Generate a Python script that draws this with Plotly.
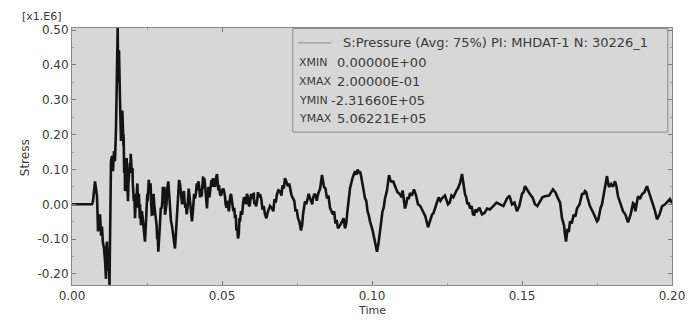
import plotly.graph_objects as go

# Time (s) and stress (x1.E6): main peaks / troughs
time = [
    0.0, 0.00667, 0.0070, 0.00767, 0.0080, 0.00833, 0.0085, 0.00867, 0.0090, 0.00933,
    0.0097, 0.0100, 0.0103, 0.01067, 0.0110, 0.01133, 0.0115, 0.01167, 0.0120, 0.01233,
    0.0125, 0.01267, 0.0130, 0.01333, 0.0135, 0.01367, 0.0140, 0.01433, 0.01467, 0.0150,
    0.01523, 0.0154, 0.0155, 0.01567, 0.0160, 0.01633, 0.0165, 0.01677, 0.01717, 0.0174,
    0.01767, 0.0180, 0.01823, 0.0185, 0.01867, 0.0190, 0.01957, 0.0199, 0.02023, 0.0206,
    0.0210, 0.0213, 0.02167, 0.0220, 0.02267, 0.0230, 0.02357, 0.0240, 0.02433, 0.0248,
    0.02523, 0.0256, 0.0260, 0.0264, 0.0269, 0.0274, 0.0280, 0.0284, 0.02877, 0.0293,
    0.0299, 0.0303, 0.03067, 0.0310, 0.03133, 0.0317, 0.0321, 0.0325, 0.0330, 0.0337,
    0.03433, 0.0349, 0.03543, 0.0357, 0.0360, 0.0367, 0.03733, 0.0378, 0.03823, 0.0387,
    0.0391, 0.0396, 0.0400, 0.0405, 0.0410, 0.0416, 0.0421, 0.0427, 0.04323, 0.0437,
    0.0441, 0.0446, 0.0450, 0.0455, 0.0460, 0.0465, 0.0470, 0.0477, 0.04833, 0.0488,
    0.04933, 0.0500, 0.0510, 0.0515, 0.0520, 0.0527, 0.05333, 0.0538, 0.05433, 0.0548,
    0.05533, 0.0558, 0.05633, 0.0570, 0.05767, 0.0583, 0.0590, 0.0597, 0.06033, 0.0608,
    0.06133, 0.0620, 0.06267, 0.0635, 0.06433, 0.06533, 0.06667, 0.0675, 0.06833, 0.06933,
    0.0702, 0.0710, 0.0720, 0.0728, 0.07367, 0.0745, 0.07533, 0.07633, 0.0770, 0.07767,
    0.0785, 0.07933, 0.0798, 0.08033, 0.0812, 0.0820, 0.08333, 0.0840, 0.0850, 0.0860,
    0.0870, 0.0878, 0.08867, 0.0900, 0.0910, 0.0918, 0.09267, 0.09433, 0.0952, 0.0960,
    0.0968, 0.09767, 0.0985, 0.09933, 0.1010, 0.10167, 0.10267, 0.1035, 0.10433, 0.10567,
    0.1065, 0.10767, 0.10933, 0.1102, 0.1110, 0.1118, 0.11267, 0.1140, 0.11533, 0.1170,
    0.11867, 0.1200, 0.1210, 0.1222, 0.12333, 0.12533, 0.1265, 0.12767, 0.12867, 0.1300,
    0.1310, 0.1318, 0.13267, 0.13367, 0.1345, 0.1350, 0.13667, 0.13833, 0.14033, 0.14267,
    0.1450, 0.14667, 0.14833, 0.1500, 0.1510, 0.15267, 0.15433, 0.1560, 0.15767, 0.16033,
    0.1620, 0.16333, 0.1640, 0.16467, 0.1652, 0.1660, 0.1672, 0.16833, 0.1700, 0.1710,
    0.1718, 0.17267, 0.1750, 0.1758, 0.17667, 0.17767, 0.17833, 0.1790, 0.17967, 0.1810,
    0.1820, 0.18367, 0.18533, 0.1870, 0.1878, 0.18867, 0.1900, 0.19167, 0.19333, 0.1950,
    0.19667, 0.19867, 0.2000,
]
stress = [
    0.0, 0.0, 0.009, 0.066, 0.045, 0.023, -0.02, -0.078, -0.04, -0.029,
    -0.09, -0.064, -0.11, -0.127, -0.16, -0.214, -0.12, -0.107, -0.19, -0.179,
    -0.2317, -0.15, 0.124, 0.139, 0.10, 0.095, 0.153, 0.124, 0.220, 0.413,
    0.506, 0.35, 0.384, 0.442, 0.298, 0.182, 0.24, 0.269, 0.168, 0.09,
    0.038, 0.11, 0.133, 0.05, 0.009, 0.08, 0.145, 0.10, 0.066, 0.01,
    -0.040, 0.02, 0.046, -0.01, 0.0, -0.06, -0.040, -0.09, -0.107, -0.03,
    0.009, 0.07, 0.046, 0.0, -0.029, 0.0, -0.040, -0.10, -0.136, -0.06,
    -0.012, 0.05, 0.038, -0.03, -0.012, 0.04, 0.066, 0.01, -0.049, -0.09,
    -0.127, -0.05, 0.009, 0.07, 0.058, 0.0, 0.038, -0.01, -0.029, 0.03,
    0.029, -0.01, -0.049, 0.0, 0.017, 0.06, 0.066, 0.02, 0.023, 0.08,
    0.075, 0.02, -0.012, 0.05, 0.038, 0.07, 0.075, 0.05, 0.087, 0.04,
    0.029, 0.04, 0.023, -0.01, -0.012, 0.02, 0.009, -0.02, -0.040, -0.075,
    -0.098, -0.04, -0.020, 0.0, 0.017, 0.03, -0.006, 0.03, 0.029, 0.0,
    -0.006, 0.035, 0.029, -0.015, -0.029, -0.020, -0.012, 0.015, 0.029, 0.038,
    0.055, 0.075, 0.052, 0.035, 0.017, -0.02, -0.040, -0.075, -0.03, 0.009,
    0.02, 0.017, 0.003, 0.017, 0.025, 0.029, 0.084, 0.05, 0.017, -0.01,
    -0.029, -0.055, -0.069, -0.049, -0.069, -0.02, 0.046, 0.095, 0.10, 0.095,
    0.06, 0.017, -0.02, -0.049, -0.107, -0.136, -0.078, -0.02, 0.017, 0.084,
    0.065, 0.052, 0.029, 0.04, -0.012, 0.02, 0.032, 0.043, 0.0, -0.020,
    -0.066, -0.03, -0.012, 0.02, 0.017, 0.0, 0.025, 0.032, 0.046, 0.087,
    0.029, 0.0, -0.012, -0.029, -0.015, -0.020, -0.029, -0.012, -0.006, 0.0,
    0.017, 0.0, -0.020, 0.03, 0.052, 0.029, 0.0, 0.009, 0.023, 0.043,
    0.017, -0.040, -0.06, -0.107, -0.07, -0.049, -0.03, -0.012, 0.029, 0.038,
    0.02, -0.006, -0.049, -0.02, 0.0, 0.046, 0.081, 0.05, 0.058, 0.066,
    0.023, -0.020, -0.052, 0.003, -0.02, 0.023, 0.029, 0.052, 0.009, -0.043,
    -0.006, 0.009, 0.003,
]

time_fine = [
    0.0172, 0.0176, 0.0178, 0.0183, 0.0188, 0.0193, 0.0195, 0.0202, 0.0208, 0.0215,
    0.0218, 0.0223, 0.0226, 0.0233, 0.0238, 0.0246, 0.0251, 0.0258, 0.0262, 0.0266,
    0.0272, 0.0277, 0.0282, 0.0286, 0.0290, 0.0296, 0.0301, 0.0305, 0.0308, 0.0315,
    0.0319, 0.0323, 0.0328, 0.0333, 0.0340, 0.0346, 0.0352, 0.0355, 0.0363, 0.0370,
    0.0375, 0.0380, 0.0385, 0.0389, 0.0393, 0.0398, 0.0403, 0.0407, 0.0413, 0.0419,
    0.0424, 0.0430, 0.0435, 0.0439, 0.0443, 0.0448, 0.0452, 0.0458, 0.0462, 0.0468,
    0.0473, 0.0480, 0.0486, 0.0490, 0.0497,
    0.0505, 0.0512, 0.0517, 0.0523, 0.0530, 0.0541, 0.0546, 0.0551, 0.0556, 0.0560,
    0.0567, 0.0573, 0.0580, 0.0587, 0.0593, 0.0600, 0.0606, 0.0611, 0.0617, 0.0623,
    0.0631, 0.0639, 0.0648, 0.0660, 0.0671, 0.0679, 0.0688, 0.0698, 0.0706, 0.0715,
    0.0724, 0.0732, 0.0741, 0.0749, 0.0758, 0.0767, 0.0773, 0.0781, 0.0789, 0.0801,
    0.0808, 0.0816, 0.0827, 0.0837, 0.0845, 0.0855, 0.0865, 0.0874, 0.0882, 0.0894,
    0.0905, 0.0914, 0.0922, 0.0935, 0.0948, 0.0956, 0.0964, 0.0972, 0.0981, 0.0989,
    0.1002, 0.1022, 0.1031, 0.1039, 0.1050, 0.1061, 0.1071, 0.1085, 0.1098, 0.1106,
    0.1114, 0.1122, 0.1133, 0.1147, 0.1161, 0.1178, 0.1193, 0.1205, 0.1216, 0.1228,
    0.1243, 0.1259, 0.1271, 0.1282, 0.1293, 0.1305, 0.1314, 0.1322, 0.1332, 0.1341,
    0.1358, 0.1375, 0.1393, 0.1415, 0.1438, 0.1458, 0.1475, 0.1491, 0.1505, 0.1518,
    0.1535, 0.1551, 0.1568, 0.1590, 0.1611, 0.1627, 0.1643, 0.1656, 0.1666, 0.1678,
    0.1692, 0.1705, 0.1714, 0.1722, 0.1738, 0.1754, 0.1762, 0.1772, 0.1786, 0.1803,
    0.1815, 0.1828, 0.1845, 0.1862, 0.1874, 0.1882, 0.1893, 0.1908, 0.1925, 0.1942,
    0.1958, 0.1977, 0.1993,
]
stress_fine = [
    0.20, 0.12, 0.06, 0.09, 0.06, 0.12, 0.09, 0.10, 0.03, 0.0,
    0.06, 0.03, -0.04, -0.02, -0.07, -0.06, 0.03, 0.03, 0.06, -0.03,
    0.03, -0.02, -0.06, -0.09, -0.11, -0.01, 0.01, 0.02, 0.05, 0.0,
    0.06, 0.04, -0.02, -0.06, -0.10, -0.09, -0.02, 0.04, 0.03, 0.03,
    0.01, 0.0, -0.01, 0.045, 0.01, -0.04, -0.02, 0.03, 0.03, 0.04,
    0.05, 0.045, 0.05, 0.045, 0.06, 0.005, 0.02, 0.02, 0.055, 0.05,
    0.06, 0.075, 0.06, 0.055, 0.025,
    0.045, 0.0, 0.01, -0.02, 0.03, -0.01, -0.03, -0.07, -0.085, -0.05,
    -0.03, 0.02, 0.0, 0.02, 0.0, 0.015, 0.03, 0.01, 0.01, 0.02,
    0.015, -0.005, -0.04, -0.005, -0.02, 0.005, 0.04, 0.025, 0.045, 0.065,
    0.06, 0.025, 0.01, -0.015, -0.05, -0.06, -0.01, 0.0, 0.03, 0.0,
    0.03, 0.01, 0.045, 0.065, 0.045, 0.025, -0.02, -0.02, -0.045, -0.06,
    -0.04, -0.055, 0.01, 0.075, 0.085, 0.09, 0.08, 0.04, 0.01, -0.03,
    -0.075, -0.11, -0.06, -0.01, 0.04, 0.07, 0.065, 0.035, 0.02, 0.02,
    0.0, 0.015, 0.025, 0.025, -0.005, -0.035, -0.045, -0.025, 0.0, 0.01,
    0.025, 0.005, 0.02, 0.04, 0.06, 0.055, 0.02, 0.005, -0.005, -0.03,
    -0.01, -0.025, -0.015, 0.005, -0.005, 0.025, 0.005, -0.005, 0.035, 0.04,
    0.02, -0.005, 0.02, 0.025, 0.035, 0.005, -0.085, -0.08, -0.055, -0.035,
    0.0, 0.03, 0.035, 0.005, -0.025, -0.045, -0.01, 0.025, 0.065, 0.05,
    0.05, 0.0, -0.03, -0.03, 0.0, 0.0, 0.015, 0.035, 0.03, -0.015,
    -0.03, 0.0, 0.015,
]

x_ticks = [0.00, 0.05, 0.10, 0.15, 0.20]
x_tick_text = ["0.00", "0.05", "0.10", "0.15", "0.20"]
y_ticks = [-0.20, -0.10, 0.00, 0.10, 0.20, 0.30, 0.40, 0.50]
y_tick_text = ["-0.20", "-0.10", "0.00", "0.10", "0.20", "0.30", "0.40", "0.50"]

legend_label = "S:Pressure (Avg: 75%) PI: MHDAT-1 N: 30226_1"
info_names = ["XMIN", "XMAX", "YMIN", "YMAX"]
info_values = ["0.00000E+00", "2.00000E-01", "-2.31660E+05", "5.06221E+05"]

pts = sorted(zip(time + time_fine, stress + stress_fine))
t_all = [p[0] for p in pts]
s_all = [p[1] for p in pts]

FONT = "DejaVu Sans"
TXT = "#3a3a3a"

fig = go.Figure()
fig.add_trace(go.Scatter(
    x=t_all, y=s_all, mode="lines",
    line=dict(color="#141414", width=2.6),
    showlegend=False, hoverinfo="skip",
))

axis_common = dict(
    showgrid=False, zeroline=False, showline=True, linecolor="#8a8a8a", linewidth=1,
    mirror="ticks", ticks="inside", ticklen=4, tickcolor="#7a7a7a", automargin=False,
    tickfont=dict(family=FONT, size=12, color=TXT),
    minor=dict(ticks="inside", ticklen=2, tickcolor="#9a9a9a"),
)

# page body adds an 8px offset, so the figure is 8px smaller and margins shifted
fig.update_layout(
    width=691, height=312,
    margin=dict(l=64, r=27, t=20, b=35),
    paper_bgcolor="white", plot_bgcolor="#d7d7d7",
    font=dict(family=FONT, size=12, color=TXT),
    xaxis=dict(range=[0, 0.2], tickvals=x_ticks, ticktext=x_tick_text, **axis_common),
    yaxis=dict(range=[-0.2317, 0.5062], tickvals=y_ticks, ticktext=y_tick_text, **axis_common),
)
fig.update_xaxes(minor=dict(dtick=0.025))
fig.update_yaxes(minor=dict(dtick=0.05))

# axis titles
fig.add_annotation(xref="paper", yref="paper", x=0.5, y=-0.1, text="Time",
                   showarrow=False, xanchor="center", yanchor="middle",
                   font=dict(family=FONT, size=11, color=TXT))
fig.add_annotation(xref="paper", yref="paper", x=-0.078, y=0.494, text="Stress",
                   showarrow=False, textangle=-90, xanchor="center", yanchor="middle",
                   font=dict(family=FONT, size=12, color=TXT))

# legend / info box
fig.add_shape(type="rect", xref="paper", yref="paper", x0=0.368, x1=0.993, y0=0.595, y1=0.998,
              line=dict(color="#8a8a8a", width=1), fillcolor="#d7d7d7", layer="above")
fig.add_shape(type="line", xref="paper", yref="paper", x0=0.377, x1=0.432, y0=0.942, y1=0.942,
              line=dict(color="#9a9a9a", width=1.2))
fig.add_annotation(xref="paper", yref="paper", x=0.448, y=0.942, text=legend_label,
                   showarrow=False, xanchor="left", yanchor="middle",
                   font=dict(family=FONT, size=13, color=TXT))
info_y = [0.864, 0.790, 0.716, 0.646]
for name, val, yy in zip(info_names, info_values, info_y):
    fig.add_annotation(xref="paper", yref="paper", x=0.375, y=yy, text=name,
                       showarrow=False, xanchor="left", yanchor="middle",
                       font=dict(family=FONT, size=11, color=TXT))
    xv = 0.429 if val.startswith("-") else 0.438
    fig.add_annotation(xref="paper", yref="paper", x=xv, y=yy, text=val,
                       showarrow=False, xanchor="left", yanchor="middle",
                       font=dict(family=FONT, size=13, color=TXT))

fig.add_annotation(xref="paper", yref="paper", x=-0.087, y=1.045, text="[x1.E6]",
                   showarrow=False, xanchor="left", yanchor="middle",
                   font=dict(family=FONT, size=11, color=TXT))

fig.write_html("out.html")
